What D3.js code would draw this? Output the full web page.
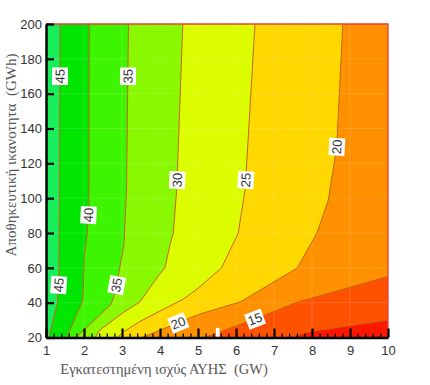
<!DOCTYPE html>
<html>
<head>
<meta charset="utf-8">
<script src="https://cdn.jsdelivr.net/npm/d3@7"></script>
<style>
  html, body { margin: 0; padding: 0; background: #fff; }
  svg { display: block; }
</style>
</head>
<body>
<svg id="chart" width="430" height="385"></svg>
<script>
// ---------------- data ----------------
const xTicks = [1, 2, 3, 4, 5, 6, 7, 8, 9, 10];
const yTicks = [20, 40, 60, 80, 100, 120, 140, 160, 180, 200];
const levels = [45, 40, 35, 30, 25, 20, 15, 10];
// contour polylines [installed power GW, storage GWh], from top/right edge to bottom edge
const c45 = [[1.37, 200], [1.355, 105], [1.34, 54], [1.30, 40], [1.08, 20]];
const c40 = [[2.14, 200], [2.13, 96], [2.09, 81], [2.01, 67], [1.97, 41.5], [1.55, 20]];
const c35 = [[3.17, 200], [3.12, 105], [3.05, 73], [2.92, 57.6], [2.82, 46], [2.71, 39], [1.79, 20]];
const c30 = [[4.60, 200], [4.44, 105], [4.35, 80], [4.26, 73], [4.13, 60], [3.91, 54], [3.47, 40.4], [3.05, 34.6], [2.42, 24.3], [2.29, 20]];
const c25 = [[6.50, 200], [6.24, 105], [6.06, 80], [5.84, 70], [5.62, 60], [5.01, 48.4], [4.61, 42], [4.00, 35.2], [3.47, 29.2], [3.05, 23.4], [2.87, 20]];
const c20 = [[8.81, 200], [8.65, 129.4], [8.43, 98.9], [8.13, 80], [7.61, 59.9], [6.11, 40.4], [5.05, 33.5], [3.53, 20]];
const c15 = [[10, 55], [7.57, 40], [6.68, 32.1], [5.18, 20]];
const c10 = [[10, 30], [8.0, 23.6], [7.4, 20]];
const contours = [c45, c40, c35, c30, c25, c20, c15, c10];
// band colours: above 45, 40-45, 35-40, ... , below 10
const bandColors = ["#17ef5a", "#00e600", "#3ef500", "#8af800", "#dcfc00", "#ffd800", "#ff9000", "#ff5200", "#ff1800"];
// contour labels: level and the coordinate where they sit on the line
const labelLevels = [45, 35, 30, 25, 20, 40, 45, 35, 20, 15];
const labelAtY = [170, 170, 110.4, 110.4, 129.5, 90.3, 50.1, 50.1, null, null];
const labelAtX = [null, null, null, null, null, null, null, null, 4.48, 6.5];
const xTitle = "Εγκατεστημένη ισχύς ΑΥΗΣ\u00a0\u00a0(GW)";
const yTitle = "Αποθηκευτική ικανοτητα\u00a0\u00a0(GWh)";

// ---------------- drawing ----------------
const svg = d3.select("#chart");
const x = d3.scaleLinear().domain([1, 10]).range([46, 388]);
const y = d3.scaleLinear().domain([20, 200]).range([337.5, 24]);
const [xmin, xmax] = x.domain(), [ymin, ymax] = y.domain();

svg.append("defs").append("clipPath").attr("id", "plotclip")
  .append("rect").attr("x", x(xmin)).attr("y", y(ymax))
  .attr("width", x(xmax) - x(xmin)).attr("height", y(ymin) - y(ymax));

const plot = svg.append("g").attr("clip-path", "url(#plotclip)");
plot.append("rect").attr("x", x(xmin)).attr("y", y(ymax))
  .attr("width", x(xmax) - x(xmin)).attr("height", y(ymin) - y(ymax))
  .attr("fill", bandColors[0]);

const line = d3.line().x(d => x(d[0])).y(d => y(d[1]));

contours.forEach((pts, i) => {
  const poly = pts.slice();
  poly.push([xmax, ymin]);
  if (pts[0][1] >= ymax) poly.push([xmax, ymax]);
  plot.append("path").attr("d", line(poly) + "Z").attr("fill", bandColors[i + 1]);
});

// faint grid
const gridG = plot.append("g").attr("stroke", "#ffffff").attr("stroke-opacity", 0.13).attr("stroke-width", 1);
xTicks.slice(1, -1).forEach(v => gridG.append("line").attr("x1", x(v)).attr("x2", x(v)).attr("y1", y(ymin)).attr("y2", y(ymax)));
yTicks.slice(1, -1).forEach(v => gridG.append("line").attr("y1", y(v)).attr("y2", y(v)).attr("x1", x(xmin)).attr("x2", x(xmax)));

contours.forEach(pts => {
  plot.append("path").attr("d", line(pts)).attr("fill", "none")
    .attr("stroke", "#c2661c").attr("stroke-width", 1);
});

// white stub of a clipped label near the bottom axis
plot.append("rect").attr("x", x(5.47)).attr("y", y(25.5)).attr("width", x(5.57) - x(5.47))
  .attr("height", y(20) - y(25.5)).attr("fill", "#fff");

// contour labels
function locate(pts, ay, ax) {
  for (let i = 0; i < pts.length - 1; i++) {
    const a = pts[i], b = pts[i + 1];
    let t = null;
    if (ay != null && (ay - a[1]) * (ay - b[1]) <= 0 && a[1] !== b[1]) t = (ay - a[1]) / (b[1] - a[1]);
    if (ax != null && (ax - a[0]) * (ax - b[0]) <= 0 && a[0] !== b[0]) t = (ax - a[0]) / (b[0] - a[0]);
    if (t != null) {
      const px = x(a[0] + t * (b[0] - a[0])), py = y(a[1] + t * (b[1] - a[1]));
      let ang = Math.atan2(y(b[1]) - y(a[1]), x(b[0]) - x(a[0])) * 180 / Math.PI;
      if (ang >= 90) ang -= 180;
      if (ang < -90) ang += 180;
      return { px, py, ang };
    }
  }
  return null;
}
const labG = svg.append("g");
labelLevels.forEach((lv, i) => {
  const pts = contours[levels.indexOf(lv)];
  const p = locate(pts, labelAtY[i], labelAtX[i]);
  if (!p) return;
  const g = labG.append("g").attr("transform", `translate(${p.px},${p.py}) rotate(${p.ang})`);
  const r = g.append("rect").attr("fill", "#fff");
  const t = g.append("text").text(lv).attr("text-anchor", "middle").attr("dy", "0.36em")
    .attr("font-family", "Liberation Sans, Arial, sans-serif").attr("font-size", 13).attr("fill", "#333");
  const bb = t.node().getBBox();
  r.attr("x", bb.x - 1.5).attr("y", bb.y - 0.5).attr("width", bb.width + 3).attr("height", bb.height + 1);
});

// red frame (top and right)
svg.append("path")
  .attr("d", `M${x(xmin)},${y(ymax)}H${x(xmax)}V${y(ymin)}`)
  .attr("fill", "none").attr("stroke", "#e8403a").attr("stroke-width", 1.3);

// axes
const tickFont = "Liberation Sans, Arial, sans-serif";
const yAxis = svg.append("g").attr("transform", `translate(${x(xmin)},0)`)
  .call(d3.axisLeft(y).tickValues(yTicks).tickSizeInner(-8).tickSizeOuter(0).tickPadding(4).tickFormat(d3.format("d")));
const xMinor = d3.range(10, 101, 2).map(v => v / 10).filter(v => Math.abs(v - Math.round(v)) > 1e-6);
svg.append("g").attr("transform", `translate(0,${y(ymin)})`)
  .call(d3.axisBottom(x).tickValues(xMinor).tickSizeInner(-4).tickSizeOuter(0).tickFormat(""))
  .call(g => g.select(".domain").remove())
  .call(g => g.selectAll(".tick line").attr("stroke", "#000").attr("stroke-width", 1.2));
const xAxis = svg.append("g").attr("transform", `translate(0,${y(ymin)})`)
  .call(d3.axisBottom(x).tickValues(xTicks).tickSizeInner(-9).tickSizeOuter(0).tickPadding(8).tickFormat(d3.format("d")));
[xAxis, yAxis].forEach(a => {
  a.select(".domain").attr("stroke", "#000").attr("stroke-width", 2.5);
  a.selectAll(".tick line").attr("stroke", "#000").attr("stroke-width", 2.2);
  a.selectAll(".tick text").attr("font-family", tickFont).attr("font-size", 13).attr("fill", "#333");
});

// titles
svg.append("text").text(xTitle).attr("x", 164).attr("y", 374).attr("text-anchor", "middle")
  .attr("font-family", "Liberation Serif, Times New Roman, serif").attr("font-size", 14.5).attr("fill", "#555");
svg.append("text").text(yTitle).attr("transform", "translate(16,155) rotate(-90)").attr("text-anchor", "middle")
  .attr("font-family", "Liberation Serif, Times New Roman, serif").attr("font-size", 15).attr("fill", "#555");
</script>
</body>
</html>
